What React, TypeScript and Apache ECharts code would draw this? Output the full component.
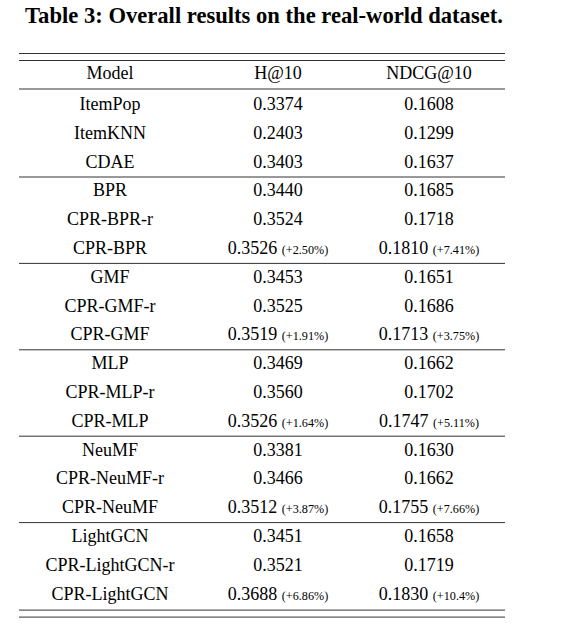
import React, { useEffect, useRef } from "react";
import * as echarts from "echarts";

const title = "Table 3: Overall results on the real-world dataset.";
const headers = ["Model", "H@10", "NDCG@10"];
const models = [
  "ItemPop", "ItemKNN", "CDAE",
  "BPR", "CPR-BPR-r", "CPR-BPR",
  "GMF", "CPR-GMF-r", "CPR-GMF",
  "MLP", "CPR-MLP-r", "CPR-MLP",
  "NeuMF", "CPR-NeuMF-r", "CPR-NeuMF",
  "LightGCN", "CPR-LightGCN-r", "CPR-LightGCN",
];
const h10 = [
  "0.3374", "0.2403", "0.3403",
  "0.3440", "0.3524", "0.3526",
  "0.3453", "0.3525", "0.3519",
  "0.3469", "0.3560", "0.3526",
  "0.3381", "0.3466", "0.3512",
  "0.3451", "0.3521", "0.3688",
];
const ndcg = [
  "0.1608", "0.1299", "0.1637",
  "0.1685", "0.1718", "0.1810",
  "0.1651", "0.1686", "0.1713",
  "0.1662", "0.1702", "0.1747",
  "0.1630", "0.1662", "0.1755",
  "0.1658", "0.1719", "0.1830",
];
const h10Gain = [
  "", "", "",
  "", "", "(+2.50%)",
  "", "", "(+1.91%)",
  "", "", "(+1.64%)",
  "", "", "(+3.87%)",
  "", "", "(+6.86%)",
];
const ndcgGain = [
  "", "", "",
  "", "", "(+7.41%)",
  "", "", "(+3.75%)",
  "", "", "(+5.11%)",
  "", "", "(+7.66%)",
  "", "", "(+10.4%)",
];
const groupEnds = [2, 5, 8, 11, 14];

const FONT = "'Liberation Serif', 'Times New Roman', serif";
const BODY = 18;
const SMALL = 12.2;

export default function App() {
  const ref = useRef<HTMLDivElement>(null);
  useEffect(() => {
    document.body.style.margin = "0";
    const chart = echarts.init(ref.current!, null, { renderer: "svg" });
    const ctx = document.createElement("canvas").getContext("2d")!;
    const measure = (t: string, size: number) => {
      ctx.font = `${size}px 'Liberation Serif', 'Times New Roman', serif`;
      return ctx.measureText(t).width;
    };
    const left = 19;
    const right = 505;
    const colX = [110, 278, 429];
    const headerY = 73;
    const row0 = 104;
    const pitch = 28.8;
    const lineColor = "#333";
    const els: any[] = [];

    const hline = (y: number) => ({
      type: "line",
      shape: { x1: left, y1: y, x2: right, y2: y },
      style: { stroke: lineColor, lineWidth: 1 },
      silent: true,
    });

    const txt = (t: string, x: number, y: number, size: number, align: string, weight = "normal") => ({
      type: "text",
      x,
      y,
      style: {
        text: t,
        fontFamily: FONT,
        fontWeight: weight,
        fontSize: size,
        fill: "#000",
        align,
        verticalAlign: "middle",
      },
    });

    els.push(txt(title, 264, 15.5, 22.6, "center", "bold"));

    els.push(hline(53.5), hline(60.5), hline(89));
    headers.forEach((h, c) => els.push(txt(h, colX[c], headerY, BODY, "center")));

    const cell = (val: string, gain: string, cx: number, y: number) => {
      if (!gain) {
        els.push(txt(val, cx, y, BODY, "center"));
        return;
      }
      const wv = measure(val, BODY);
      const sp = measure(" ", BODY);
      const wg = measure(gain, SMALL);
      const x0 = cx - (wv + sp + wg) / 2;
      els.push(txt(val, x0, y, BODY, "left"));
      els.push(txt(gain, x0 + wv + sp, y + 0.34 * (BODY - SMALL), SMALL, "left"));
    };

    models.forEach((m, i) => {
      const y = row0 + pitch * i;
      els.push(txt(m, colX[0], y, BODY, "center"));
      cell(h10[i], h10Gain[i], colX[1], y);
      cell(ndcg[i], ndcgGain[i], colX[2], y);
    });

    groupEnds.forEach((g) => {
      els.push(hline(row0 + pitch * (g + 0.5) + 1));
    });

    const last = row0 + pitch * (models.length - 1);
    els.push(hline(last + 16.5), hline(last + 23.5));

    chart.setOption({
      animation: false,
      backgroundColor: "#fff",
      graphic: { elements: els },
    });
    return () => chart.dispose();
  }, []);
  return <div ref={ref} style={{ width: 562, height: 626 }} />;
}
